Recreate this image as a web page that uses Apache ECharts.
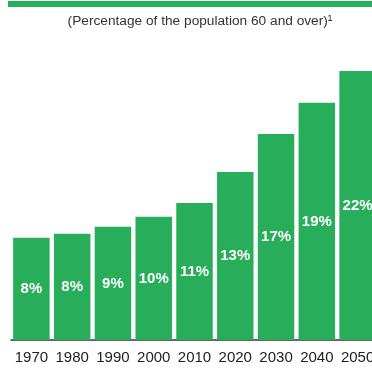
<!DOCTYPE html>
<html><head><meta charset="utf-8">
<script src="https://cdn.jsdelivr.net/npm/echarts@6/dist/echarts.min.js"></script>
<style>html,body{margin:0;padding:0;background:#fff}#c{width:372px;height:368px}</style>
</head><body><div id="c"></div>
<script>
var years = ['1970','1980','1990','2000','2010','2020','2030','2040','2050'];
var shares = [8.36, 8.68, 9.26, 10.07, 11.2, 13.75, 16.85, 19.4, 22.0];
var shareLabels = ['8%','8%','9%','10%','11%','13%','17%','19%','22%'];
var subtitle = '(Percentage of the population 60 and over)\u00B9';

var green = '#28ae5a';
var chart = echarts.init(document.getElementById('c'), null, {renderer:'canvas'});
chart.setOption({
  animation:false,
  textStyle:{fontFamily:'Liberation Sans, Arial, sans-serif'},
  title:{text:subtitle, left:195, top:9, textAlign:'center',
    textStyle:{fontSize:13.7, fontWeight:'normal', color:'#333', fontFamily:'Liberation Sans, Arial, sans-serif'}},
  graphic:[{type:'rect', shape:{x:8, y:1, width:364, height:6}, style:{fill:green}}],
  grid:{left:11, top:71, width:367, bottom:28, containLabel:false, outerBoundsMode:'none'},
  xAxis:{type:'category', data:years,
    axisLine:{lineStyle:{color:'#333', width:1.5}},
    axisTick:{show:false},
    axisLabel:{color:'#222', fontSize:15, margin:10, interval:0}},
  yAxis:{type:'value', min:0, max:22, show:false, splitLine:{show:false}},
  series:[{type:'bar', data:shares, barCategoryGap:'10.5%',
    itemStyle:{color:green},
    label:{show:true, position:'inside', color:'#fff', fontWeight:'bold', fontSize:15,
      formatter:function(p){return shareLabels[p.dataIndex];}}}]
});
</script></body></html>
